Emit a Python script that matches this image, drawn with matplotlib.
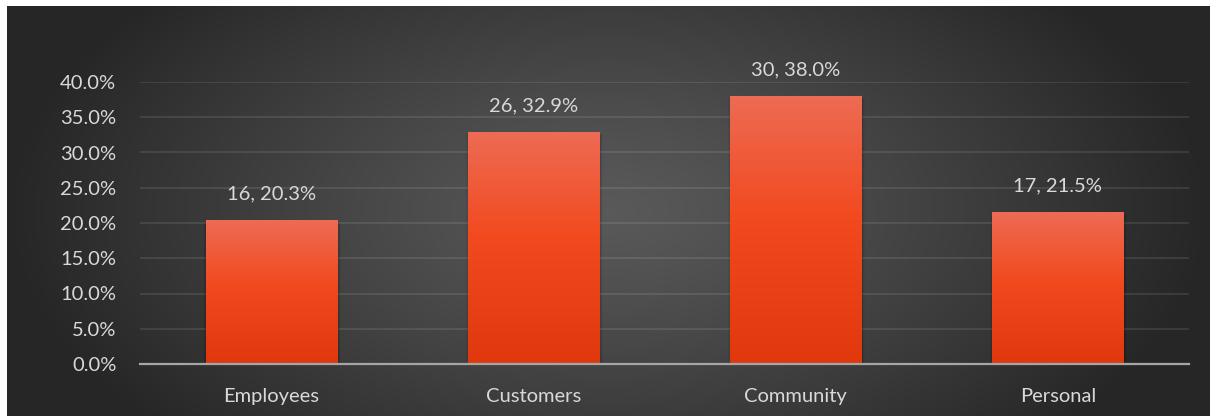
import numpy as np
import matplotlib.pyplot as plt
from matplotlib.ticker import PercentFormatter, MultipleLocator

categories = ["Employees", "Customers", "Community", "Personal"]
counts = [16, 26, 30, 17]
shares = [20.3, 32.9, 38.0, 21.5]

W, H = 1210, 416
fig = plt.figure(figsize=(W / 100, H / 100), dpi=100, facecolor="white")

# dark radial backdrop, lighter towards the middle
bg = fig.add_axes([7 / W, 0, 1 - 7 / W, 1 - 6 / H])
bg.set_axis_off()
yy, xx = np.mgrid[-1:1:300j, -1:1:900j]
r = np.sqrt((xx / 1.0) ** 2 + (yy / 1.6) ** 2)
r = np.clip(r, 0, 1)
shade = 0.35 - 0.20 * r ** 1.2
bg.imshow(np.dstack([shade] * 3), aspect="auto", extent=[0, 1, 0, 1])
bg.set_xlim(0, 1)
bg.set_ylim(0, 1)

ax = fig.add_axes([140 / W, (H - 364) / H, (1189 - 140) / W, (364 - 82) / H])
ax.patch.set_alpha(0)
x = np.arange(len(categories))
ax.set_xlim(-0.5, len(categories) - 0.5)
ax.set_ylim(0, 40)

# bar fill: pinkish orange at the top, deep orange-red at the base
t = np.linspace(0, 1, 256)
stops = [0.0, 0.55, 1.0]
stop_cols = np.array([[0.88, 0.22, 0.05], [0.95, 0.29, 0.12], [0.93, 0.42, 0.33]])
cols = np.stack([np.interp(t, stops, stop_cols[:, i]) for i in range(3)], axis=1)
cols = cols[:, None, :]

bars = ax.bar(x, shares, width=0.5, color="none", zorder=3)
for b in bars:
    bx, by = b.get_x(), b.get_y()
    bw, bh = b.get_width(), b.get_height()
    # soft shadow along the sides
    for k, a in enumerate([0.10, 0.06, 0.03]):
        ax.bar(bx + bw / 2 + 0.003, bh - 0.3, width=bw + 0.008 * (k + 1),
               bottom=0, color="black", alpha=a, zorder=2, linewidth=0)
    ax.imshow(cols, extent=[bx, bx + bw, by, by + bh], origin="lower",
              aspect="auto", zorder=3)

for xi, c, s in zip(x, counts, shares):
    ax.annotate(f"{c}, {s:.1f}%", (xi, s), xytext=(0, 13), textcoords="offset points",
                ha="center", va="bottom", color="#D9D9D9", fontsize=14.5,
                family="Lato")

ax.yaxis.set_major_locator(MultipleLocator(5))
ax.yaxis.set_major_formatter(PercentFormatter(decimals=1))
ax.set_xticks(x, categories)
ax.grid(axis="y", color="white", alpha=0.1, linewidth=1.3, zorder=1)
ax.set_axisbelow(True)
for side in ["top", "right", "left"]:
    ax.spines[side].set_visible(False)
ax.spines["bottom"].set_color("#A6A6A6")
ax.spines["bottom"].set_linewidth(1.6)
ax.spines["bottom"].set_zorder(4)
ax.tick_params(axis="both", length=0, colors="#D9D9D9", labelsize=14.5)
ax.tick_params(axis="y", pad=17)
ax.tick_params(axis="x", pad=17)
for lbl in ax.get_xticklabels() + ax.get_yticklabels():
    lbl.set_family("Lato")

fig.savefig("out.png", dpi=100, facecolor="white")
